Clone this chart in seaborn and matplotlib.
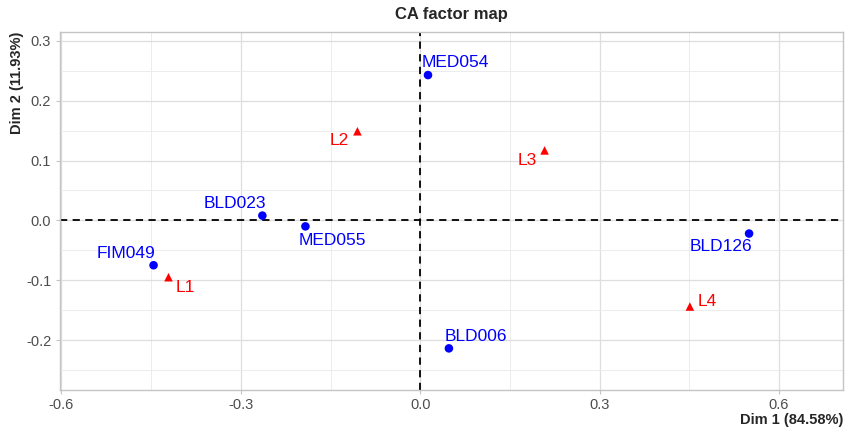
import matplotlib
matplotlib.use("Agg")
import matplotlib.pyplot as plt
import seaborn as sns
import pandas as pd
from matplotlib.ticker import MultipleLocator

# ---- data ----
col_names = ["MED054", "BLD023", "MED055", "FIM049", "BLD126", "BLD006"]
col_dim1 = [0.013, -0.264, -0.192, -0.446, 0.550, 0.048]
col_dim2 = [0.243, 0.008, -0.010, -0.075, -0.022, -0.214]

row_names = ["L1", "L2", "L3", "L4"]
row_dim1 = [-0.421, -0.105, 0.208, 0.451]
row_dim2 = [-0.095, 0.149, 0.117, -0.144]

x_label = "Dim 1 (84.58%)"
y_label = "Dim 2 (11.93%)"
title = "CA factor map"

# label offsets in pixels (dx right, dy up) — layout only
offsets_px = {
    "MED054": (27, 13), "L2": (-18, -9), "L3": (-17, -10), "BLD023": (-27, 12),
    "MED055": (27, -14), "FIM049": (-28, 12), "L1": (17, -10), "BLD126": (-28, -13),
    "L4": (17, 5), "BLD006": (27, 12),
}

df = pd.concat([
    pd.DataFrame({"name": col_names, "Dim1": col_dim1, "Dim2": col_dim2, "type": "col"}),
    pd.DataFrame({"name": row_names, "Dim1": row_dim1, "Dim2": row_dim2, "type": "row"}),
], ignore_index=True)

sns.set_style("white")
plt.rcParams["font.family"] = ["Liberation Sans", "DejaVu Sans"]

fig = plt.figure(figsize=(8.46, 4.33), dpi=100)
ax = fig.add_axes([59.5 / 846, 1 - 390 / 433, (843 - 59.5) / 846, (390 - 32) / 433])

ax.set_xlim(-0.6033, 0.7071)
ax.set_ylim(-0.2836, 0.315)
ax.xaxis.set_major_locator(MultipleLocator(0.3))
ax.xaxis.set_minor_locator(MultipleLocator(0.15))
ax.yaxis.set_major_locator(MultipleLocator(0.1))
ax.yaxis.set_minor_locator(MultipleLocator(0.05))
ax.grid(which="major", color="#DEDEDE", linewidth=0.9)
ax.grid(which="minor", color="#ECECEC", linewidth=0.7)
ax.set_axisbelow(True)

ax.axhline(0, color="black", linestyle=(0, (4, 3)), linewidth=1.3, zorder=1.5)
ax.axvline(0, color="black", linestyle=(0, (4, 3)), linewidth=1.3, zorder=1.5)

sns.scatterplot(data=df, x="Dim1", y="Dim2", hue="type", style="type",
                markers={"col": "o", "row": "^"},
                palette={"col": "#0000FF", "row": "#FF0000"},
                s=38, edgecolor="none", legend=False, ax=ax, zorder=3)

for _, r in df.iterrows():
    dx, dy = offsets_px[r["name"]]
    ax.annotate(r["name"], (r["Dim1"], r["Dim2"]),
                xytext=(dx * 0.72, dy * 0.72), textcoords="offset points",
                ha="center", va="center", fontsize=12.5,
                color="#0000FF" if r["type"] == "col" else "#FF0000", zorder=4)

for s in ax.spines.values():
    s.set_color("#C4C4C4")
    s.set_linewidth(1.0)

ax.tick_params(axis="both", which="major", bottom=True, left=True, length=3, width=0.8,
               color="#C4C4C4", labelsize=10.5, labelcolor="#4D4D4D", direction="out", pad=3)
ax.tick_params(which="minor", length=0)
ax.set_xticks([-0.6, -0.3, 0.0, 0.3, 0.6])
ax.set_xticklabels(["-0.6", "-0.3", "0.0", "0.3", "0.6"])
ax.set_yticks([-0.2, -0.1, 0.0, 0.1, 0.2, 0.3])
ax.set_yticklabels(["-0.2", "-0.1", "0.0", "0.1", "0.2", "0.3"])

ax.set_xlabel("")
ax.set_ylabel("")
fig.text(843 / 846, 1 - 420 / 433, x_label, ha="right", va="center",
         fontsize=10.5, fontweight="bold")
fig.text(17 / 846, 1 - 32 / 433, y_label, ha="center", va="top", rotation=90,
         fontsize=10.5, fontweight="bold")
fig.text(451 / 846, 1 - 14 / 433, title, ha="center", va="center",
         fontsize=12, fontweight="bold")

fig.savefig("out.png", dpi=100)
